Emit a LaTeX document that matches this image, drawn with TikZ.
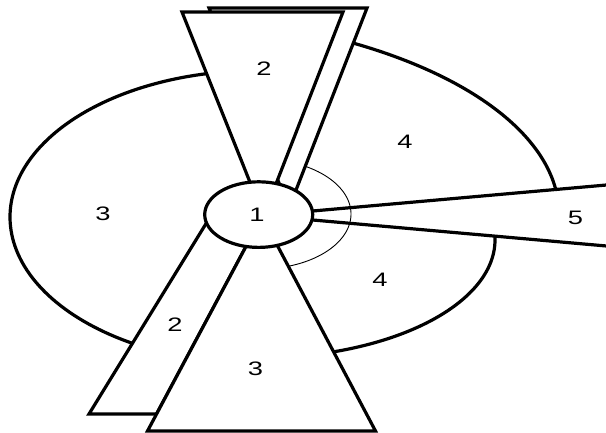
\documentclass[tikz,border=0pt]{standalone}
\usepackage{fontspec}
\usepackage{graphicx}
\setmainfont{Liberation Sans}
\begin{document}
\begin{tikzpicture}[x=1pt,y=-1pt,
  piece/.style={draw=black, fill=white, line width=3.2pt, line join=miter},
  bigarc/.style={draw=black, line width=3.2pt},
  thinarc/.style={draw=black, line width=0.9pt},
  lbl/.style={inner sep=0pt, font=\fontsize{19.5}{19.5}\selectfont}]
\clip (0,0) rectangle (606,433);
\fill[white] (0,0) rectangle (606,433);
% outer arcs of regions 3 and 4
\draw[bigarc] plot[domain=100:243, samples=90] ({258+248*cos(\x)},{217-146.5*sin(\x)});
\draw[bigarc] plot[domain=6:61, samples=70] ({131+428*cos(\x)},{214-200*sin(\x)});
\draw[bigarc] plot[domain=-75:8, samples=70] ({258+237*cos(\x)},{240-118*sin(\x)});
% wedge 5
\coordinate (w0) at (262,215.5);
\coordinate (w1) at (620,183.8);
\coordinate (w2) at (620,247.2);
\draw[piece] (w0) -- (w1) -- (w2) -- cycle;
% thin arc
\draw[thinarc] plot[domain=-74:62, samples=70] ({260+91*cos(\x)},{214-55*sin(\x)});
% upper back and front sectors (2)
\coordinate (b1) at (209,8);
\coordinate (b2) at (367,8);
\coordinate (b0) at (289,208);
\draw[piece] (b1) -- (b2) -- (b0) -- cycle;
\coordinate (f1) at (182,12);
\coordinate (f2) at (343,12);
\coordinate (f0) at (263.5,216);
\draw[piece] (f1) -- (f2) -- (f0) -- cycle;
% lower back sector (2)
\coordinate (p0) at (210.7,216);
\coordinate (p1) at (89,414);
\coordinate (p2) at (156.5,414);
\coordinate (t0) at (262,216.5);
\draw[piece] (p0) -- (p1) -- (p2) -- (t0) -- cycle;
% lower front sector (3)
\coordinate (t1) at (147.5,431);
\coordinate (t2) at (375.5,431);
\draw[piece] (t0) -- (t1) -- (t2) -- cycle;
% centre
\draw[piece] (258.7,214.6) ellipse [x radius=54pt, y radius=32.8pt];
% labels
\node[lbl] (n1) at (257,215) {\scalebox{1.4}[1]{1}};
\node[lbl] (n2a) at (264,69) {\scalebox{1.4}[1]{2}};
\node[lbl] (n2b) at (175,325) {\scalebox{1.4}[1]{2}};
\node[lbl] (n3a) at (103,214) {\scalebox{1.4}[1]{3}};
\node[lbl] (n3b) at (255.5,369) {\scalebox{1.4}[1]{3}};
\node[lbl] (n4a) at (405,142) {\scalebox{1.4}[1]{4}};
\node[lbl] (n4b) at (380,280) {\scalebox{1.4}[1]{4}};
\node[lbl] (n5) at (575.5,218) {\scalebox{1.4}[1]{5}};
\end{tikzpicture}
\end{document}
